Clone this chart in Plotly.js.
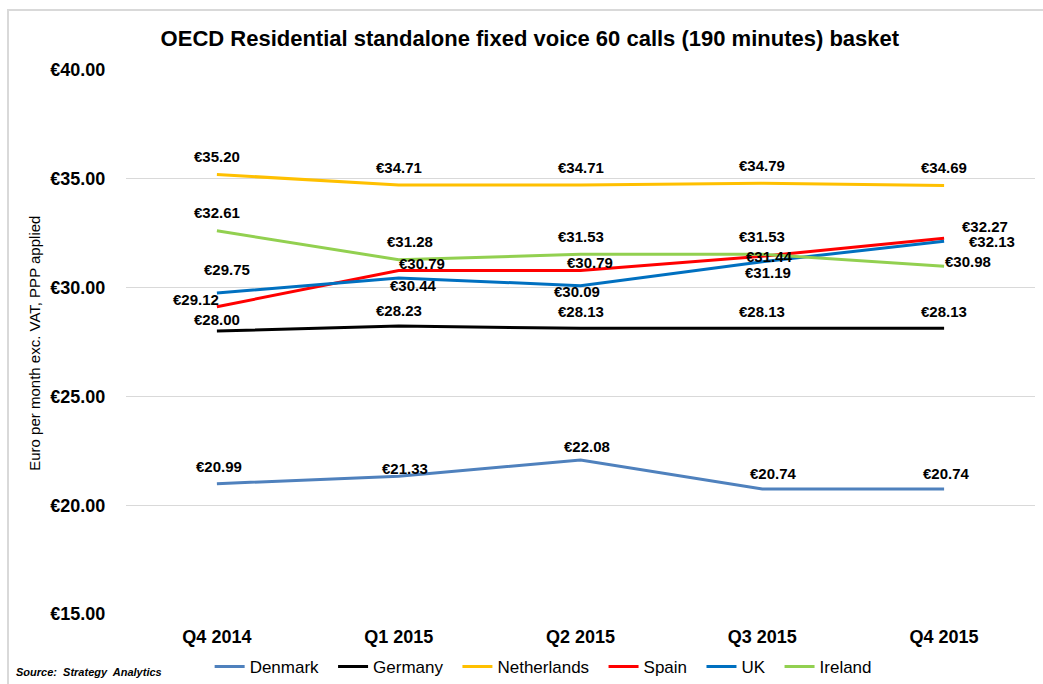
<!DOCTYPE html>
<html>
<head>
<meta charset="utf-8">
<script src="https://cdn.plot.ly/plotly-3.0.1.min.js"></script>
<style>
  html, body { margin: 0; padding: 0; background: #fff; }
  #chart { width: 1043px; height: 684px; }
  #frame { position: absolute; left: 7px; top: 9px; width: 1100px; height: 700px;
           border-left: 2px solid #d9d9d9; border-top: 2px solid #d9d9d9; pointer-events: none; }
</style>
</head>
<body>
<div id="chart"></div>
<div id="frame"></div>
<script>
const quarters = ["Q4 2014", "Q1 2015", "Q2 2015", "Q3 2015", "Q4 2015"];
const denmark     = [20.99, 21.33, 22.08, 20.74, 20.74];
const germany     = [28.00, 28.23, 28.13, 28.13, 28.13];
const netherlands = [35.20, 34.71, 34.71, 34.79, 34.69];
const spain       = [29.12, 30.79, 30.79, 31.44, 32.27];
const uk          = [29.75, 30.44, 30.09, 31.19, 32.13];
const ireland     = [32.61, 31.28, 31.53, 31.53, 30.98];

const seriesNames = ["Denmark", "Germany", "Netherlands", "Spain", "UK", "Ireland"];
const seriesData = [denmark, germany, netherlands, spain, uk, ireland];
const colors = ["#4f81bd", "#000000", "#ffc000", "#ff0000", "#0070c0", "#92d050"];

// label offsets in pixels [dx, dy-up], styling only
const labelOffsets = [
  [[2,17],[6,8],[6,13],[11,16],[2,16]],
  [[0,12],[0,16],[0,17],[0,17],[0,17]],
  [[0,18],[0,18],[0,18],[0,18],[0,18]],
  [[-21,7],[23,7],[9,8],[7,0],[41,12]],
  [[10,24],[15,-7],[-4,-6],[6,-11],[48,0]],
  [[0,18],[11,18],[0,18],[0,18],[24,5]]
];

const legendPad = "\u00a0\u00a0";
const traces = seriesNames.map((n, i) => ({
  type: "scatter", mode: "lines", name: n + legendPad,
  x: quarters, y: seriesData[i],
  line: { color: colors[i], width: 3 },
  hoverinfo: "x+y+name"
}));

const annotations = [];
seriesData.forEach((vals, i) => {
  vals.forEach((v, j) => {
    annotations.push({
      x: quarters[j], y: v, xref: "x", yref: "y",
      text: "€" + v.toFixed(2), showarrow: false,
      xanchor: "center", yanchor: "middle",
      xshift: labelOffsets[i][j][0], yshift: labelOffsets[i][j][1],
      font: { family: "Liberation Sans, Arial, sans-serif", size: 15, color: "#000", weight: "bold" }
    });
  });
});

annotations.push({
  xref: "paper", yref: "paper", x: -0.1, y: 0.497, textangle: -90,
  text: "Euro per month exc. VAT, PPP applied", showarrow: false,
  xanchor: "center", yanchor: "middle",
  font: { family: "Liberation Sans, Arial, sans-serif", size: 15, color: "#000" }
});
annotations.push({
  xref: "paper", yref: "paper", x: -0.123, y: -0.1075,
  text: "<b><i>Source:  Strategy  Analytics</i></b>", showarrow: false,
  xanchor: "left", yanchor: "middle",
  font: { family: "Liberation Sans, Arial, sans-serif", size: 11, color: "#000" }
});

const layout = {
  width: 1043, height: 684,
  margin: { l: 126, r: 8, t: 70, b: 70 },
  paper_bgcolor: "rgba(0,0,0,0)", plot_bgcolor: "#fff",
  title: {
    text: "<b>OECD Residential standalone fixed voice 60 calls (190 minutes) basket</b>",
    x: 0.508, xref: "container", xanchor: "center",
    y: 0.944, yref: "container", yanchor: "middle",
    font: { family: "Liberation Sans, Arial, sans-serif", size: 22, color: "#000" }
  },
  xaxis: {
    type: "category", range: [-0.5, 4.5],
    showgrid: false, zeroline: false, showline: false,
    ticks: "outside", ticklen: 6, tickcolor: "rgba(0,0,0,0)",
    tickfont: { family: "Liberation Sans, Arial, sans-serif", size: 18, color: "#000", weight: "bold" }
  },
  yaxis: {
    range: [15, 40], dtick: 5, tick0: 15,
    tickprefix: "€", tickformat: ".2f",
    showgrid: true, gridcolor: "#d9d9d9", gridwidth: 1,
    zeroline: false, showline: false,
    ticks: "outside", ticklen: 16, tickcolor: "rgba(0,0,0,0)",
    tickfont: { family: "Liberation Sans, Arial, sans-serif", size: 18, color: "#000", weight: "bold" }
  },
  showlegend: true,
  legend: {
    orientation: "h", xref: "container", yref: "container",
    x: 0.201, xanchor: "left", y: 0.0249, yanchor: "middle",
    font: { family: "Liberation Sans, Arial, sans-serif", size: 17, color: "#000" },
    itemwidth: 30, tracegroupgap: 0, bgcolor: "rgba(0,0,0,0)"
  },
  annotations: annotations
};

Plotly.newPlot("chart", traces, layout, { displayModeBar: false, staticPlot: true });
</script>
</body>
</html>
